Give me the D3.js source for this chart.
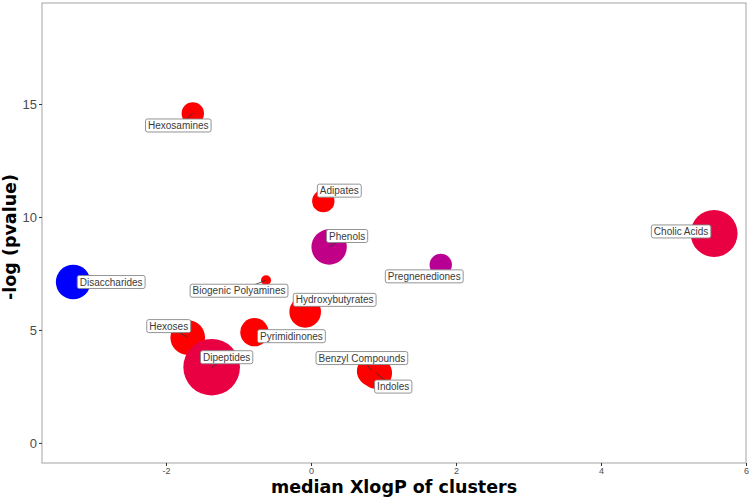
<!DOCTYPE html>
<meta charset="utf-8">

<style>
  body { margin: 0; background: #fff; }
  svg text { font-family: "Liberation Sans", Arial, sans-serif; }
  .axis-title { font-family: "DejaVu Sans", sans-serif !important; font-weight: bold; font-size: 17.5px; fill: #000; }
</style>

<script src="https://cdn.jsdelivr.net/npm/d3@7"></script>

<div id="my_dataviz"></div>

<script>

// cluster data
var clusters   = ['Hexosamines', 'Disaccharides', 'Hexoses', 'Dipeptides', 'Biogenic Polyamines',
                  'Pyrimidinones', 'Hydroxybutyrates', 'Benzyl Compounds', 'Indoles', 'Adipates',
                  'Phenols', 'Pregnenediones', 'Cholic Acids'];
var medianXlogP = [-1.63, -3.28, -1.70, -1.37, -0.62, -0.78, -0.08, 0.84, 0.90, 0.17, 0.25, 1.79, 5.56];
var negLogP     = [14.58, 7.12, 4.66, 3.35, 7.20, 4.90, 5.80, 3.18, 3.09, 10.70, 8.67, 7.88, 9.27];
var clusterSize = [5, 12, 12, 32, 1, 8, 10, 9, 10, 5, 12.5, 5, 22];
var upRatio     = [1, 0, 1, 0.8, 1, 1, 1, 1, 1, 1, 0.5, 0.45, 0.8];

var xTicks = [-2, 0, 2, 4, 6];
var yTicks = [0, 5, 10, 15];

// label placement (repel result, in px relative to the point) + whether a leader line shows
var labelShift = [[-14.5, 12, 1], [38, 0, 0], [-19, -11.5, 1], [15, -10, 1], [-27, 10.5, 1],
                  [37, 4, 0], [29.5, -12, 0], [-10, -13, 1], [17, 13.5, 1], [16, -10.5, 0],
                  [18, -11, 1], [-16.5, 11.5, 0], [-33, -2, 0]];

var data = clusters.map(function(c, i) {
  return {name: c, x: medianXlogP[i], y: negLogP[i], n: clusterSize[i], up: upRatio[i],
          dx: labelShift[i][0], dy: labelShift[i][1], seg: labelShift[i][2]};
});

var W = 749, H = 499;
var panel = {left: 42, right: 746, top: 3, bottom: 463};

var svg = d3.select("#my_dataviz")
  .append("svg")
    .attr("width", W)
    .attr("height", H);

var x = d3.scaleLinear().domain([-3.71, 6.0]).range([panel.left, panel.right]);
var y = d3.scaleLinear().domain([-0.89, 19.47]).range([panel.bottom, panel.top]);
var r = d3.scaleSqrt().domain([0, 32]).range([0, 28.3]);
var color = d3.scaleLinear().domain([0, 1]).range(["#0000ff", "#ff0000"]).interpolate(d3.interpolateLab);

// panel border
svg.append("rect")
  .attr("x", panel.left).attr("y", panel.top)
  .attr("width", panel.right - panel.left).attr("height", panel.bottom - panel.top)
  .attr("fill", "none").attr("stroke", "#b3b3b3").attr("stroke-width", 1.2);

// axes (plain hyphen for negatives, like the original)
var gx = svg.append("g")
  .attr("transform", "translate(0," + panel.bottom + ")")
  .call(d3.axisBottom(x).tickValues(xTicks).tickSize(3).tickPadding(2).tickFormat(function(d) { return String(d); }));
gx.select(".domain").remove();
gx.selectAll("line").attr("stroke", "#333");
gx.selectAll("text").style("font-size", "9px").attr("fill", "#4d4d4d");

var gy = svg.append("g")
  .attr("transform", "translate(" + panel.left + ",0)")
  .call(d3.axisLeft(y).tickValues(yTicks).tickSize(3).tickPadding(2));
gy.select(".domain").remove();
gy.selectAll("line").attr("stroke", "#333");
gy.selectAll("text").style("font-size", "13px").attr("fill", "#4d4d4d");

// bubbles
svg.selectAll("circle.pt")
  .data(data)
  .enter()
  .append("circle")
    .attr("class", "pt")
    .attr("cx", function(d) { return x(d.x); })
    .attr("cy", function(d) { return y(d.y); })
    .attr("r", function(d) { return r(d.n); })
    .attr("fill", function(d) { return color(d.up); });

// labels
var labels = svg.selectAll("g.lab")
  .data(data)
  .enter()
  .append("g")
    .attr("class", "lab");

labels.each(function(d) {
  var g = d3.select(this);
  var px = x(d.x), py = y(d.y);
  var cx = px + d.dx, cy = py + d.dy;
  var t = g.append("text")
    .attr("x", cx).attr("y", cy)
    .attr("text-anchor", "middle")
    .attr("dy", "0.35em")
    .style("font-size", "10px")
    .attr("fill", "#3a3a3a")
    .text(d.name);
  var bb = t.node().getBBox();
  var bw = bb.width + 5, bh = 13;
  var x0 = cx - bw / 2, y0 = cy - bh / 2;
  if (d.seg) {
    // clip segment from point towards the label centre at the box edge
    var vx = cx - px, vy = cy - py;
    var tx = vx !== 0 ? Math.abs((vx > 0 ? x0 : x0 + bw) - px) / Math.abs(vx) : 0;
    var ty = vy !== 0 ? Math.abs((vy > 0 ? y0 : y0 + bh) - py) / Math.abs(vy) : 0;
    var s = Math.min(Math.max(tx, ty), 1);
    g.insert("line", "text")
      .attr("x1", px).attr("y1", py)
      .attr("x2", px + vx * s).attr("y2", py + vy * s)
      .attr("stroke", "#333").attr("stroke-width", 0.8);
  }
  g.insert("rect", "text")
    .attr("x", x0).attr("y", y0)
    .attr("width", bw).attr("height", bh)
    .attr("rx", 2).attr("ry", 2)
    .attr("fill", "#fff")
    .attr("stroke", "#888").attr("stroke-width", 0.9);
});

// axis titles
svg.append("text")
  .attr("class", "axis-title")
  .attr("x", (panel.left + panel.right) / 2)
  .attr("y", 493)
  .attr("text-anchor", "middle")
  .text("median XlogP of clusters");

svg.append("text")
  .attr("class", "axis-title")
  .attr("transform", "translate(16,237)rotate(-90)")
  .attr("text-anchor", "middle")
  .text("-log (pvalue)");

</script>
